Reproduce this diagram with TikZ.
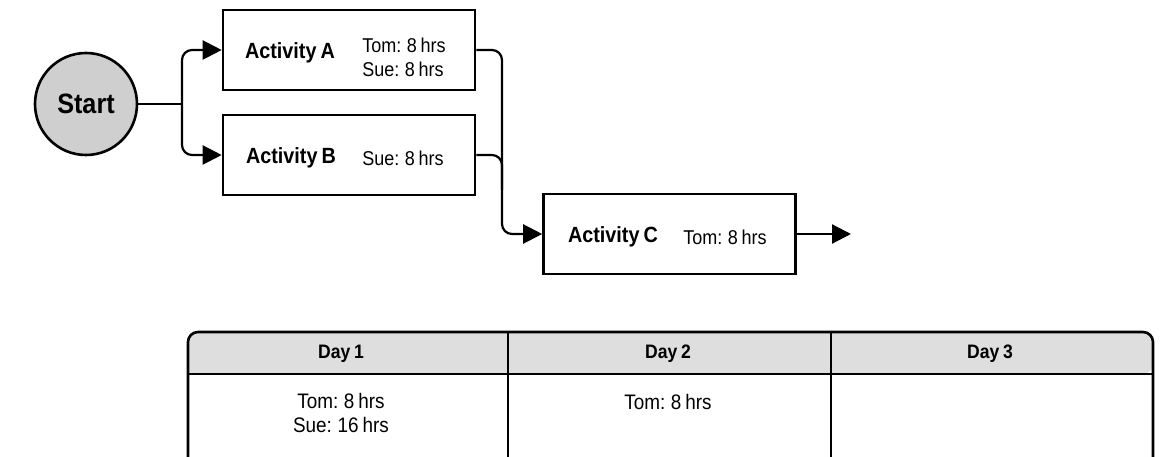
\documentclass[tikz,border=0pt]{standalone}
\usepackage{fontspec}
\setmainfont[FakeStretch=0.9,WordSpace=0.75]{Liberation Sans}
\usetikzlibrary{arrows.meta}
\begin{document}
\begin{tikzpicture}[x=1pt,y=-1pt,
  actbox/.style={draw=black,line width=2.6pt,minimum width=252pt,minimum height=80pt,inner sep=0pt},
  startnode/.style={circle,draw=black,line width=2.6pt,fill=black!19,minimum size=102pt,inner sep=0pt,font=\fontsize{28}{32}\selectfont\bfseries},
  title/.style={font=\fontsize{22}{26}\selectfont\bfseries,inner sep=0pt},
  hrs/.style={font=\fontsize{20}{24}\selectfont,inner sep=0pt,align=left},
  cell/.style={font=\fontsize{21}{24}\selectfont,inner sep=0pt,align=center},
  head/.style={font=\fontsize{19.5}{22}\selectfont\bfseries,inner sep=0pt},
  link/.style={line width=2.2pt,rounded corners=10pt},
  tip/.style={-{Triangle[length=19pt,width=19pt]}}]
\useasboundingbox (0,0) rectangle (1168,457);

% network
\node[startnode] (start) at (86,104) {Start};
\node[actbox] (A) at (349,50) {};
\node[actbox] (B) at (349,155) {};
\node[actbox] (C) at (669.5,234) {};

\node[title] (At) at (290,53) {Activity A};
\node[hrs] (Ah) at (404,57) {Tom: 8 hrs\\Sue: 8 hrs};
\node[title] (Bt) at (291,158) {Activity B};
\node[hrs] (Bh) at (403,158) {Sue: 8 hrs};
\node[title] (Ct) at (613,237) {Activity C};
\node[hrs] (Ch) at (725,237) {Tom: 8 hrs};

\coordinate (split) at (182,104);
\coordinate (join) at (502,234);
\coordinate (bmerge) at (502,190);
\coordinate (out) at (851,234);

\draw[link] (start.east) -- (split);
\draw[link,tip] (split) |- (A.west);
\draw[link,tip] (split) |- (B.west);
\draw[link,tip] (A.east) -| (join) -- (C.west);
\draw[link] (B.east) -| (bmerge);
\draw[link,tip] (C.east) -- (out);

% schedule table
\fill[black!13,rounded corners=10pt] (188,374) -- (188,332) -- (1153,332) -- (1153,374) [sharp corners] -- cycle;
\draw[line width=1.6pt] (188,374) -- (1153,374);
\draw[line width=1.6pt] (508,332) -- (508,457);
\draw[line width=1.6pt] (831,332) -- (831,457);
\draw[line width=2.6pt,rounded corners=10pt] (188,457) -- (188,332) -- (1153,332) -- (1153,457);

\node[head] (d1) at (341,354) {Day 1};
\node[head] (d2) at (668,354) {Day 2};
\node[head] (d3) at (990,354) {Day 3};
\node[cell] (c1) at (341,413) {Tom: 8 hrs\\Sue: 16 hrs};
\node[cell] (c2) at (668,402) {Tom: 8 hrs};
\end{tikzpicture}
\end{document}
